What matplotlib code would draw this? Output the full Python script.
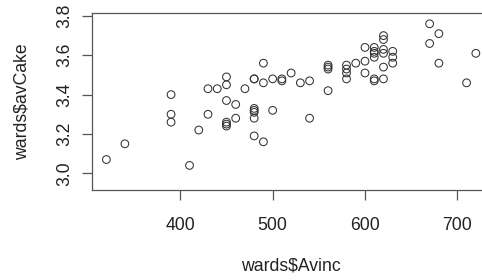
import matplotlib
matplotlib.use("Agg")
import matplotlib.pyplot as plt

avinc = [320, 340, 390, 390, 390, 410, 420, 430, 430, 440,
         450, 450, 450, 450, 450, 450, 460, 460, 470,
         480, 480, 480, 480, 480, 480, 480, 490, 490, 490,
         500, 500, 510, 510, 520, 530, 540, 540,
         560, 560, 560, 560, 580, 580, 580, 580, 590,
         600, 600, 600, 610, 610, 610, 610, 610, 610,
         620, 620, 620, 620, 620, 620, 630, 630, 630,
         670, 670, 680, 680, 710, 720]
avcake = [3.07, 3.15, 3.40, 3.30, 3.26, 3.04, 3.22, 3.30, 3.43, 3.43,
          3.49, 3.45, 3.37, 3.26, 3.25, 3.24, 3.35, 3.28, 3.43,
          3.48, 3.48, 3.33, 3.32, 3.31, 3.28, 3.19, 3.56, 3.46, 3.16,
          3.48, 3.32, 3.48, 3.47, 3.51, 3.46, 3.47, 3.28,
          3.55, 3.54, 3.53, 3.42, 3.55, 3.53, 3.51, 3.48, 3.56,
          3.64, 3.57, 3.51, 3.64, 3.62, 3.61, 3.59, 3.48, 3.47,
          3.70, 3.68, 3.63, 3.61, 3.54, 3.48, 3.62, 3.59, 3.56,
          3.76, 3.66, 3.71, 3.56, 3.46, 3.61]
xticks = [400, 500, 600, 700]
yticks = [3.0, 3.2, 3.4, 3.6, 3.8]

plt.rcParams['font.family'] = ['Liberation Sans', 'DejaVu Sans']

W, H = 482, 280
fig = plt.figure(figsize=(W / 100, H / 100), dpi=100)
left, right, top, bottom = 92, 490.6, 13, 190
ax = fig.add_axes([left / W, 1 - bottom / H, (right - left) / W, (bottom - top) / H])

ax.scatter(avinc, avcake, s=31, facecolors='none', edgecolors='#333333', linewidths=0.75)

ax.set_xlim(304.4, 736)
ax.set_ylim(2.915, 3.815)
ax.set_xticks(xticks)
ax.set_xticklabels([str(v) for v in xticks])
ax.set_yticks(yticks)
ax.set_yticklabels([f"{v:.1f}" for v in yticks], rotation=90, va='center')

for s in ax.spines.values():
    s.set_color('#555555')
    s.set_linewidth(0.9)
ax.tick_params(axis='both', direction='out', length=7.2, width=0.9, color='#555555',
               labelsize=12.7, labelcolor='#222222')
ax.tick_params(axis='x', pad=12)
ax.tick_params(axis='y', pad=6.5)

ax.set_xlabel('wards$Avinc', fontsize=12.7, color='#222222', labelpad=17)
ax.set_ylabel('wards$avCake', fontsize=12.7, color='#222222', labelpad=18.5)

fig.savefig('out.png', dpi=100)
